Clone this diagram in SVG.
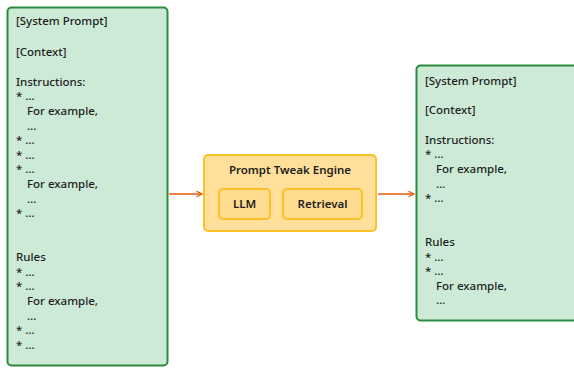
<svg xmlns="http://www.w3.org/2000/svg" width="574" height="368" viewBox="0 0 574 368">
<defs>
<style>
.doc{fill:#cdead6;stroke:#2b8a3e;stroke-width:2}
.t{font-family:"Noto Sans","Liberation Sans",sans-serif;font-size:11.5px;font-weight:500;fill:#1e1e1e}
.eng{fill:#ffdf99;stroke:#fcc028;stroke-width:2}
.sub{fill:#ffdb8f;stroke:#fcc028;stroke-width:2}
.c{text-anchor:middle;font-weight:600}
.con{stroke:#e8590c;stroke-width:1.6;fill:none}
</style>
<marker id="ah" viewBox="0 0 10 10" refX="9" refY="5" markerWidth="7" markerHeight="7" orient="auto" markerUnits="userSpaceOnUse">
<path d="M1,1 L9,5 L1,9" fill="none" stroke="#e8590c" stroke-width="1.6"/>
</marker>
</defs>
<rect width="574" height="368" fill="#ffffff"/>
<g id="input-prompt">
<rect class="doc" x="7.5" y="7.5" width="160" height="358" rx="4"/>
<text class="t"><tspan x="16" y="25">[System Prompt]</tspan><tspan x="16" y="56">[Context]</tspan><tspan x="16" y="86">Instructions:</tspan><tspan x="16" y="100">* …</tspan><tspan x="27" y="115">For example,</tspan><tspan x="27" y="130">…</tspan><tspan x="16" y="144">* …</tspan><tspan x="16" y="159">* …</tspan><tspan x="16" y="173">* …</tspan><tspan x="27" y="188">For example,</tspan><tspan x="27" y="203">…</tspan><tspan x="16" y="217">* …</tspan><tspan x="16" y="261">Rules</tspan><tspan x="16" y="276">* …</tspan><tspan x="16" y="290">* …</tspan><tspan x="27" y="305">For example,</tspan><tspan x="27" y="320">…</tspan><tspan x="16" y="334">* …</tspan><tspan x="16" y="349">* …</tspan></text>
</g>
<g id="prompt-tweak-engine">
<rect class="eng" x="204" y="155" width="172" height="76" rx="4"/>
<text class="t c" x="290" y="174">Prompt Tweak Engine</text>
</g>
<g id="llm">
<rect class="sub" x="219" y="189" width="51" height="30" rx="4"/>
<text class="t c" x="244.5" y="208">LLM</text>
</g>
<g id="retrieval">
<rect class="sub" x="283" y="189" width="79" height="30" rx="4"/>
<text class="t c" x="322.5" y="208">Retrieval</text>
</g>
<g id="output-prompt">
<rect class="doc" x="416.5" y="65.5" width="165" height="255" rx="4"/>
<text class="t"><tspan x="425" y="85">[System Prompt]</tspan><tspan x="425" y="114">[Context]</tspan><tspan x="425" y="144">Instructions:</tspan><tspan x="425" y="158">* …</tspan><tspan x="436" y="173">For example,</tspan><tspan x="436" y="188">…</tspan><tspan x="425" y="202">* …</tspan><tspan x="425" y="246">Rules</tspan><tspan x="425" y="261">* …</tspan><tspan x="425" y="275">* …</tspan><tspan x="436" y="290">For example,</tspan><tspan x="436" y="304">…</tspan></text>
</g>
<g id="connectors">
<line class="con" x1="169" y1="194" x2="202" y2="194" marker-end="url(#ah)"/>
<line class="con" x1="378" y1="194" x2="414" y2="194" marker-end="url(#ah)"/>
</g>
</svg>
